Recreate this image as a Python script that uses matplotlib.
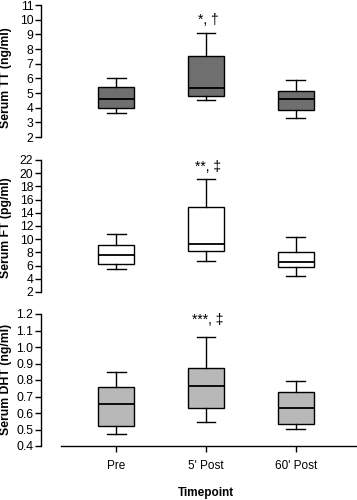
import matplotlib
matplotlib.use("Agg")
import matplotlib.pyplot as plt
from matplotlib.ticker import FormatStrFormatter

plt.rcParams['font.family'] = ['Liberation Sans', 'DejaVu Sans']

categories = ["Pre", "5' Post", "60' Post"]

# five-number summaries: whislo, q1, med, q3, whishi
tt_low = [3.62, 4.50, 3.28]
tt_q1 = [3.95, 4.82, 3.84]
tt_med = [4.61, 5.36, 4.59]
tt_q3 = [5.43, 7.52, 5.16]
tt_high = [6.04, 9.07, 5.87]

ft_low = [5.54, 6.70, 4.37]
ft_q1 = [6.24, 8.28, 5.76]
ft_med = [7.60, 9.34, 6.50]
ft_q3 = [9.18, 14.90, 8.10]
ft_high = [10.80, 19.10, 10.40]

dht_low = [0.471, 0.546, 0.501]
dht_q1 = [0.519, 0.628, 0.531]
dht_med = [0.657, 0.764, 0.632]
dht_q3 = [0.756, 0.873, 0.727]
dht_high = [0.848, 1.063, 0.796]

tt_annot = "*, \u2020"
ft_annot = "**, \u2021"
dht_annot = "***, \u2021"

fig = plt.figure(figsize=(3.57, 5.0), dpi=100)

left = 41 / 357
width = 1 - left
panels = [
    dict(top=5, bottom=137, low=tt_low, q1=tt_q1, med=tt_med, q3=tt_q3,
         high=tt_high, color='#6f6f6f', ylim=(2, 11), ticks=[2, 3, 4, 5, 6, 7, 8, 9, 10, 11],
         fmt='%d', label='Serum TT (ng/ml)', annot=tt_annot, ay=10.0, ly=78),
    dict(top=160, bottom=292, low=ft_low, q1=ft_q1, med=ft_med, q3=ft_q3,
         high=ft_high, color='white', ylim=(2, 22), ticks=list(range(2, 23, 2)),
         fmt='%d', label='Serum FT (pg/ml)', annot=ft_annot, ay=21.0, ly=228),
    dict(top=314, bottom=446, low=dht_low, q1=dht_q1, med=dht_med, q3=dht_q3,
         high=dht_high, color='#b8b8b8', ylim=(0.4, 1.2), ticks=[0.4, 0.5, 0.6, 0.7, 0.8, 0.9, 1.0, 1.1, 1.2],
         fmt='%.1f', label='Serum DHT (ng/ml)', annot=dht_annot, ay=1.165, ly=379),
]

positions = [1, 2, 3]
px_per_unit = 89.5
xlo = 1 - 75 / px_per_unit
xhi = 3 + 61 / px_per_unit

for i, p in enumerate(panels):
    h = p['bottom'] - p['top']
    ax = fig.add_axes([left, 1 - p['bottom'] / 500, width, h / 500])
    stats = []
    for j in range(3):
        stats.append(dict(whislo=p['low'][j], q1=p['q1'][j], med=p['med'][j],
                          q3=p['q3'][j], whishi=p['high'][j], fliers=[]))
    ax.bxp(stats, positions=positions, widths=0.4, patch_artist=True, showfliers=False,
           boxprops=dict(facecolor=p['color'], edgecolor='black', linewidth=1.0),
           medianprops=dict(color='black', linewidth=1.3),
           whiskerprops=dict(color='black', linewidth=1.0),
           capprops=dict(color='black', linewidth=1.0), capwidths=0.21)
    ax.set_xlim(xlo, xhi)
    ax.set_ylim(*p['ylim'])
    ax.set_yticks(p['ticks'])
    ax.yaxis.set_major_formatter(FormatStrFormatter(p['fmt']))
    ax.tick_params(axis='y', direction='out', length=4, width=1.0, labelsize=8.8, pad=1.5)
    for s in ['top', 'right']:
        ax.spines[s].set_visible(False)
    ax.spines['left'].set_linewidth(1.0)
    fig.text(6.5 / 357, 1 - p['ly'] / 500, p['label'], rotation=90, ha='center', va='center',
             fontsize=8.8, fontweight='bold')
    ax.text(2.02, p['ay'], p['annot'], ha='center', va='center', fontsize=10, clip_on=False)
    if i < 2:
        ax.spines['bottom'].set_visible(False)
        ax.set_xticks([])
    else:
        ax.spines['bottom'].set_bounds(1 - 55 / px_per_unit, xhi)
        ax.spines['bottom'].set_linewidth(1.0)
        ax.set_xticks(positions)
        ax.set_xticklabels(categories, fontsize=8.5)
        ax.tick_params(axis='x', direction='out', length=4, width=1.0, pad=6)

fig.text((41 + (2 - xlo) * px_per_unit) / 357, 1 - 493 / 500, 'Timepoint',
         ha='center', va='center', fontsize=8.5, fontweight='bold')

fig.savefig('out.png', dpi=100)
